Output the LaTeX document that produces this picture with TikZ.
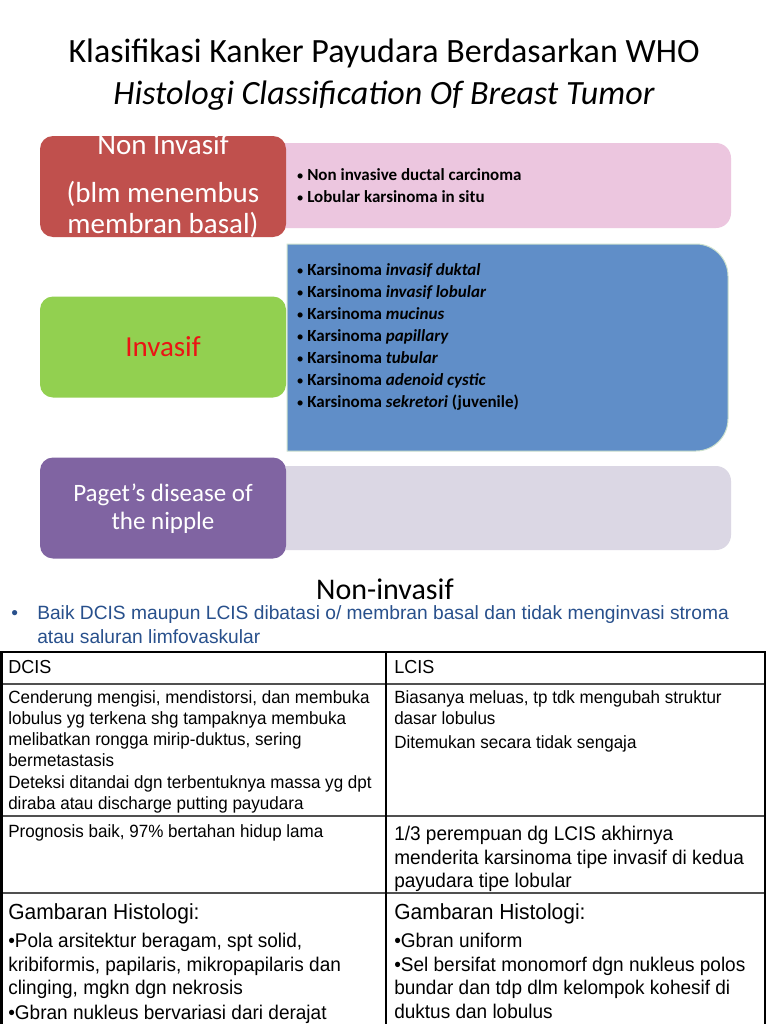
\documentclass[tikz,border=0pt]{standalone}
\usepackage{fontspec}
\setmainfont{Carlito}
\newfontfamily\arialf{Liberation Sans}
\newfontfamily\arialn[FakeStretch=0.96]{Liberation Sans}
\definecolor{redc}{RGB}{192,80,77}
\definecolor{pinkc}{RGB}{236,198,223}
\definecolor{bluec}{RGB}{96,142,200}
\definecolor{blueedge}{RGB}{205,225,205}
\definecolor{greenc}{RGB}{146,208,80}
\definecolor{purplec}{RGB}{128,100,162}
\definecolor{lavc}{RGB}{219,215,228}
\definecolor{invred}{RGB}{235,20,20}
\definecolor{paratext}{RGB}{40,80,140}
\definecolor{rulegray}{RGB}{80,80,80}
\tikzset{
  catbox/.style={rectangle, rounded corners=9.75pt, inner sep=0pt, minimum width=184.5pt, minimum height=75.75pt},
  panel/.style={rounded corners=11.25pt},
  ttl/.style={anchor=base, inner sep=0pt, font=\fontsize{25.5}{30}\selectfont},
  boxlbl/.style={anchor=base, inner sep=0pt, text=white, font=\fontsize{21.75}{26}\selectfont},
  pagetlbl/.style={anchor=base, inner sep=0pt, text=white, font=\fontsize{18.75}{22}\selectfont},
  bul/.style={anchor=base west, inner sep=0pt, font=\fontsize{12.75}{15}\selectfont\bfseries},
  para/.style={anchor=base west, inner sep=0pt, text=paratext, font=\arialf\fontsize{14.4}{17}\selectfont},
  tA/.style={anchor=base west, inner sep=0pt, font=\arialn\fontsize{13.3}{15}\selectfont},
  tB/.style={anchor=base west, inner sep=0pt, font=\arialn\fontsize{14.85}{17}\selectfont},
  tH/.style={anchor=base west, inner sep=0pt, font=\arialn\fontsize{14.1}{16}\selectfont},
  tG/.style={anchor=base west, inner sep=0pt, font=\arialn\fontsize{16.4}{19}\selectfont},
  outer/.style={line width=1.5pt, black},
  inner/.style={line width=1pt, rulegray},
  colrule/.style={line width=1pt, black}
}
\newcommand{\bl}[1]{\makebox[8.25pt][l]{\hspace{0.3pt}\mdseries\scalebox{0.85}{\textbullet}}#1}
\begin{document}
\begin{tikzpicture}[x=0.75pt,y=-0.75pt]
\useasboundingbox (0,0) rectangle (768,1024);
\fill[white] (0,0) rectangle (768,1024);

% titles
\node[ttl] (t1) at (384,63) {Klasifikasi Kanker Payudara Berdasarkan WHO};
\node[ttl] (t2) at (384,104) {\itshape Histologi Classification Of Breast Tumor};

% right panels
\fill[pinkc, panel] (260,143) rectangle (731,228);
\fill[lavc, panel] (260,466) rectangle (731,550);
\draw[fill=bluec, draw=blueedge, line width=0.75pt] (287,451) -- (287,244) -- (696,244)
  arc[start angle=-90, end angle=0, radius=32] -- (728,419)
  arc[start angle=0, end angle=90, radius=32] -- cycle;

% category boxes
\node[catbox, fill=redc] (nonbox) at (163,186.5) {};
\node[catbox, fill=greenc] (invbox) at (163,347) {};
\node[catbox, fill=purplec] (pagbox) at (163,508) {};

\node[boxlbl] (n1) at (163,154) {Non Invasif};
\node[boxlbl] (n2) at (163,202) {(blm menembus};
\node[boxlbl] (n3) at (163,233) {membran basal)};
\node[boxlbl, text=invred] (i1) at (163,356) {Invasif};
\node[pagetlbl] (p1) at (163,501) {Paget’s disease of};
\node[pagetlbl] (p2) at (163,529) {the nipple};

% pink bullets
\node[bul] (b1) at (296,180) {\bl{Non invasive ductal carcinoma}};
\node[bul] (b2) at (296,202) {\bl{Lobular karsinoma in situ}};

% blue bullets
\node[bul] (c1) at (296,275) {\bl{Karsinoma \textit{invasif duktal}}};
\node[bul] (c2) at (296,297) {\bl{Karsinoma \textit{invasif lobular}}};
\node[bul] (c3) at (296,319) {\bl{Karsinoma \textit{mucinus}}};
\node[bul] (c4) at (296,341) {\bl{Karsinoma \textit{papillary}}};
\node[bul] (c5) at (296,363) {\bl{Karsinoma \textit{tubular}}};
\node[bul] (c6) at (296,385) {\bl{Karsinoma \textit{adenoid cystic}}};
\node[bul] (c7) at (296,407) {\bl{Karsinoma \textit{sekretori} (juvenile)}};

% second part heading
\node[ttl, font=\fontsize{22.5}{27}\selectfont] (h2) at (385,599) {Non-invasif};
\node[para] (pb) at (11,619) {\textbullet};
\node[para] (pa1) at (37,619) {Baik DCIS maupun LCIS dibatasi o/ membran basal dan tidak menginvasi stroma};
\node[para] (pa2) at (37,643) {atau saluran limfovaskular};

% table rules
\draw[inner] (1,684) -- (765,684);
\draw[inner] (1,816) -- (765,816);
\draw[inner] (1,893) -- (765,893);
\draw[colrule] (386,652) -- (386,1024);
\draw[outer] (1.5,1024) -- (1.5,652) -- (765,652) -- (765,1024);

% header row
\node[tH] (hd) at (8,673) {DCIS};
\node[tH] (hl) at (394,673) {LCIS};

% row 2
\node[tA] (a1) at (8,703) {Cenderung mengisi, mendistorsi, dan membuka};
\node[tA] (a2) at (8,724) {lobulus yg terkena shg tampaknya membuka};
\node[tA] (a3) at (8,745) {melibatkan rongga mirip-duktus, sering};
\node[tA] (a4) at (8,766) {bermetastasis};
\node[tA] (a5) at (8,788) {Deteksi ditandai dgn terbentuknya massa yg dpt};
\node[tA] (a6) at (8,809) {diraba atau discharge putting payudara};
\node[tA] (r1) at (394,703) {Biasanya meluas, tp tdk mengubah struktur};
\node[tA] (r2) at (394,724) {dasar lobulus};
\node[tA] (r3) at (394,748) {Ditemukan secara tidak sengaja};

% row 3
\node[tA] (pg) at (8,837) {Prognosis baik, 97\% bertahan hidup lama};
\node[tB] (q1) at (394,840) {1/3 perempuan dg LCIS akhirnya};
\node[tB] (q2) at (394,864) {menderita karsinoma tipe invasif di kedua};
\node[tB] (q3) at (394,887) {payudara tipe lobular};

% row 4
\node[tG] (g1) at (8,919) {Gambaran Histologi:};
\node[tB] (g2) at (8,947) {\textbullet Pola arsitektur beragam, spt solid,};
\node[tB] (g3) at (8,971) {kribiformis, papilaris, mikropapilaris dan};
\node[tB] (g4) at (8,994) {clinging, mgkn dgn nekrosis};
\node[tB] (g5) at (8,1019) {\textbullet Gbran nukleus bervariasi dari derajat};
\node[tG] (k1) at (394,919) {Gambaran Histologi:};
\node[tB] (k2) at (394,947) {\textbullet Gbran uniform};
\node[tB] (k3) at (394,971) {\textbullet Sel bersifat monomorf dgn nukleus polos};
\node[tB] (k4) at (394,994) {bundar dan tdp dlm kelompok kohesif di};
\node[tB] (k5) at (394,1018) {duktus dan lobulus};
\end{tikzpicture}
\end{document}
